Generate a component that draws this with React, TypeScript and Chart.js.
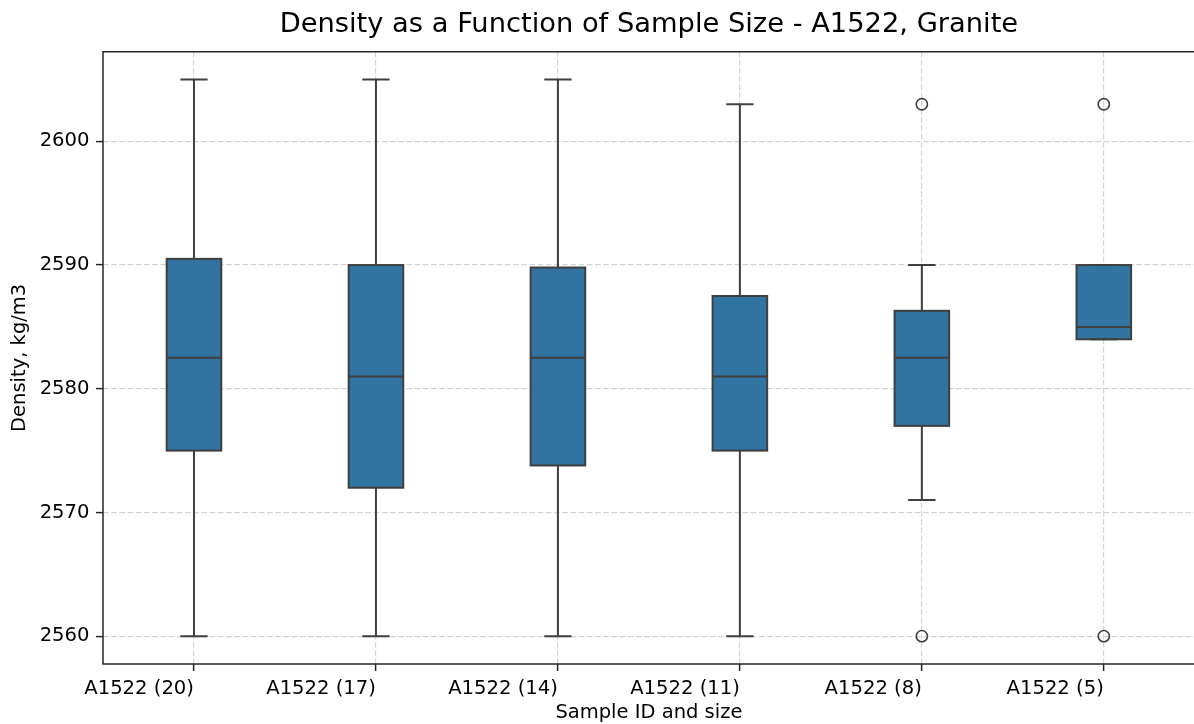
import React, { useEffect, useRef } from "react";
import { Chart, registerables } from "chart.js";

Chart.register(...registerables);

// ---- Data ----
const categories = ["A1522 (20)", "A1522 (17)", "A1522 (14)", "A1522 (11)", "A1522 (8)", "A1522 (5)"];
const whiskerLow = [2560, 2560, 2560, 2560, 2571, 2584];
const q1 = [2575, 2572, 2573.8, 2575, 2577, 2584];
const median = [2582.5, 2581, 2582.5, 2581, 2582.5, 2585];
const q3 = [2590.5, 2590, 2589.8, 2587.5, 2586.3, 2590];
const whiskerHigh = [2605, 2605, 2605, 2603, 2590, 2590];
const outliersHigh = [null, null, null, null, 2603, 2603];
const outliersLow = [null, null, null, null, 2560, 2560];
const yTicks = [2560, 2570, 2580, 2590, 2600];
const yMin = 2557.75;
const yMax = 2607.25;

const titleText = "Density as a Function of Sample Size - A1522, Granite";
const xTitle = "Sample ID and size";
const yTitle = "Density, kg/m3";

// ---- Styles ----
const FONT = "'DejaVu Sans', 'Liberation Sans', sans-serif";
const BOX_FILL = "#3274a1";
const LINE = "#3f3f3f";
const GRID = "#d4d4d4";
const AXIS = "#262626";

const boxPlugin = {
  id: "boxWhiskers",
  afterDatasetsDraw(chart: any) {
    const ctx = chart.ctx;
    const xs = chart.scales.x;
    const ys = chart.scales.y;
    const meta = chart.getDatasetMeta(0);
    ctx.save();
    ctx.strokeStyle = LINE;
    ctx.lineWidth = 2;
    ctx.lineCap = "butt";
    ctx.lineJoin = "miter";
    categories.forEach((_, i) => {
      const bar = meta.data[i];
      const cx = xs.getPixelForValue(i);
      const half = bar.width / 2;
      const capHalf = half / 2;
      const yq1 = ys.getPixelForValue(q1[i]);
      const yq3 = ys.getPixelForValue(q3[i]);
      const ylo = ys.getPixelForValue(whiskerLow[i]);
      const yhi = ys.getPixelForValue(whiskerHigh[i]);
      const ymed = ys.getPixelForValue(median[i]);
      ctx.beginPath();
      if (whiskerLow[i] < q1[i]) {
        ctx.moveTo(cx, yq1);
        ctx.lineTo(cx, ylo);
      }
      ctx.moveTo(cx - capHalf, ylo);
      ctx.lineTo(cx + capHalf, ylo);
      if (whiskerHigh[i] > q3[i]) {
        ctx.moveTo(cx, yq3);
        ctx.lineTo(cx, yhi);
      }
      ctx.moveTo(cx - capHalf, yhi);
      ctx.lineTo(cx + capHalf, yhi);
      ctx.moveTo(cx - half, ymed);
      ctx.lineTo(cx + half, ymed);
      ctx.stroke();
      // box outline
      ctx.strokeRect(cx - half, yq3, half * 2, yq1 - yq3);
    });
    ctx.restore();
  },
  afterDraw(chart: any) {
    const ctx = chart.ctx;
    const { left, top, right, bottom } = chart.chartArea;
    ctx.save();
    ctx.strokeStyle = AXIS;
    ctx.lineWidth = 1.5;
    ctx.beginPath();
    ctx.moveTo(left, top);
    ctx.lineTo(right + 2, top);
    ctx.moveTo(left, top - 0.75);
    ctx.lineTo(left, bottom + 0.75);
    ctx.moveTo(left, bottom);
    ctx.lineTo(right + 2, bottom);
    ctx.stroke();
    ctx.restore();
  },
};

export default function App() {
  const canvasRef = useRef<HTMLCanvasElement | null>(null);

  useEffect(() => {
    if (!canvasRef.current) return;
    Chart.defaults.font.family = FONT;
    const chart = new Chart(canvasRef.current, {
      type: "bar",
      data: {
        labels: categories,
        datasets: [
          {
            type: "bar",
            label: "box",
            data: q1.map((v, i) => [v, q3[i]]) as any,
            backgroundColor: BOX_FILL,
            borderWidth: 0,
            borderSkipped: false,
            barPercentage: 0.3,
            categoryPercentage: 1,
            order: 2,
          },
          {
            type: "line",
            label: "outliers high",
            data: outliersHigh as any,
            showLine: false,
            pointRadius: 5.6,
            pointBorderWidth: 1.6,
            pointBorderColor: LINE,
            pointBackgroundColor: "rgba(0,0,0,0)",
            order: 1,
          },
          {
            type: "line",
            label: "outliers low",
            data: outliersLow as any,
            showLine: false,
            pointRadius: 5.6,
            pointBorderWidth: 1.6,
            pointBorderColor: LINE,
            pointBackgroundColor: "rgba(0,0,0,0)",
            order: 1,
          },
        ],
      },
      options: {
        responsive: false,
        animation: false,
        devicePixelRatio: 1,
        layout: { padding: { top: 0, left: 0, right: 0, bottom: 0 } },
        plugins: {
          legend: { display: false },
          tooltip: { enabled: false },
          title: {
            display: true,
            text: titleText,
            fullSize: false,
            color: "#000",
            font: { family: FONT, size: 27.3, weight: "normal", lineHeight: 1.2 },
            padding: { top: 9, bottom: 9.9 },
          },
        },
        scales: {
          x: {
            type: "category",
            offset: true,
            grid: {
              display: true,
              offset: false,
              color: GRID,
              lineWidth: 1.2,
              drawTicks: true,
              tickLength: 7,
              tickColor: AXIS,
              tickWidth: 1.5,
              tickBorderDash: [],
            },
            border: { display: false, dash: [5.7, 2.5] },
            ticks: {
              align: "end",
              color: "#000",
              font: { family: FONT, size: 19.6, lineHeight: 1.2 },
              padding: 6.5,
              maxRotation: 0,
              minRotation: 0,
              autoSkip: false,
            },
            title: {
              display: true,
              text: xTitle,
              color: "#000",
              font: { family: FONT, size: 19.5, lineHeight: 1 },
              padding: { top: 0, bottom: 1 },
            },
            afterFit: (s: any) => {
              s.height = 60;
            },
          } as any,
          y: {
            type: "linear",
            min: yMin,
            max: yMax,
            afterBuildTicks: (s: any) => {
              s.ticks = yTicks.map((v) => ({ value: v }));
            },
            grid: {
              display: true,
              color: GRID,
              lineWidth: 1.2,
              drawTicks: true,
              tickLength: 7,
              tickColor: AXIS,
              tickWidth: 1.5,
              tickBorderDash: [],
            },
            border: { display: false, dash: [5.7, 2.5] },
            ticks: {
              color: "#000",
              font: { family: FONT, size: 19.6, lineHeight: 1.2 },
              padding: 6.5,
              callback: (v: any) => String(v),
            },
            title: {
              display: true,
              text: yTitle,
              color: "#000",
              font: { family: FONT, size: 19.5, lineHeight: 1.2 },
              padding: { top: 8.5, bottom: 0 },
            },
            afterFit: (s: any) => {
              s.width = 103;
            },
          } as any,
        },
      },
      plugins: [boxPlugin],
    });
    return () => chart.destroy();
  }, []);

  return (
    <div
      style={{
        position: "absolute",
        left: 0,
        top: 0,
        width: 1194,
        height: 724,
        overflow: "hidden",
        background: "#fff",
      }}
    >
      <canvas ref={canvasRef} width={1202} height={724} style={{ display: "block" }} />
    </div>
  );
}
